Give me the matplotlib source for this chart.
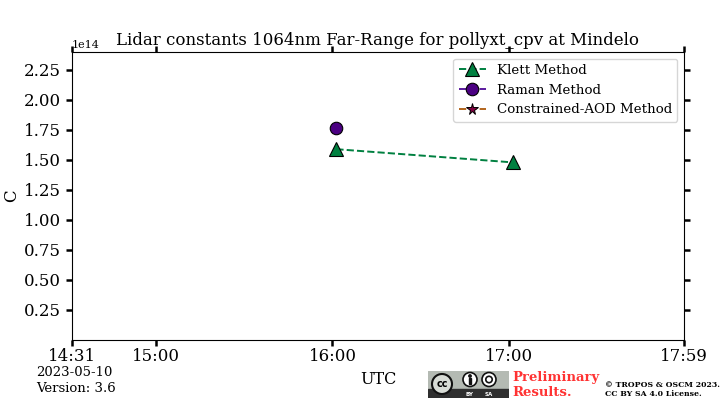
import datetime as dt

import matplotlib
matplotlib.use('Agg')
import matplotlib.pyplot as plt
from matplotlib.patches import Circle, Rectangle

plt.rcParams['font.family'] = 'DejaVu Serif'

day = dt.datetime(2023, 5, 10)


def hm(h, m, s=0):
    return day + dt.timedelta(hours=h, minutes=m, seconds=s)


klett_times = [hm(16, 1, 20), hm(17, 1, 20)]
klett_values = [1.59e14, 1.48e14]
raman_times = [hm(16, 1, 20)]
raman_values = [1.765e14]
aod_times = []
aod_values = []

x_ticks = [hm(14, 31, 27), hm(15, 0), hm(16, 0), hm(17, 0), hm(17, 59, 30)]
x_labels = ['14:31', '15:00', '16:00', '17:00', '17:59']
y_ticks = [0.25e14, 0.5e14, 0.75e14, 1.0e14, 1.25e14, 1.5e14, 1.75e14, 2.0e14, 2.25e14]

fig = plt.figure(figsize=(7.2, 4.0), dpi=100)
ax = fig.add_axes([0.1, 0.15, 0.85, 0.72])

ax.plot(klett_times, klett_values, '--', color='#008040', marker='^', ms=9.5,
        mfc='#008040', mec='black', mew=0.8, lw=1.4, label='Klett Method')
ax.plot(raman_times, raman_values, '--', color='#5b1a9e', marker='o', ms=9,
        mfc='#4b0082', mec='black', mew=0.8, lw=1.4, label='Raman Method')
ax.plot(aod_times, aod_values, '--', color='#b2651d', marker='*', ms=8.5,
        mfc='#800040', mec='black', mew=0.7, lw=1.4, label='Constrained-AOD Method')

ax.set_xlim(x_ticks[0], x_ticks[-1])
ax.set_ylim(0, 2.4e14)
ax.set_xticks(x_ticks)
ax.set_xticklabels(x_labels)
ax.set_yticks(y_ticks)
ax.tick_params(axis='both', which='major', labelsize=12, length=4.5, width=1.8,
               top=True, right=True, direction='out')
ax.tick_params(axis='x', pad=1)
ax.yaxis.get_offset_text().set_fontsize(8)
fig.text(12 / 720, 0.51, 'C', fontsize=12, rotation=90, ha='center', va='center')
ax.set_title('Lidar constants 1064nm Far-Range for pollyxt_cpv at Mindelo', fontsize=12, pad=5)
ax.legend(loc='upper right', fontsize=9.6, framealpha=0.8, handlelength=2.05)

fig.text(0.05, 0.0675, '2023-05-10', fontsize=9.5, va='center')
fig.text(0.05, 0.03, 'Version: 3.6', fontsize=9.5, va='center')
fig.text(0.5, 0.0525, 'UTC', fontsize=11.5, va='center')
fig.text(0.711, 0.0575, 'Preliminary', color='#ff3333', fontsize=9.5, fontweight='bold', va='center')
fig.text(0.711, 0.02, 'Results.', color='#ff3333', fontsize=9.5, fontweight='bold', va='center')
fig.text(0.84, 0.0375, '\u00a9 TROPOS & OSCM 2023.', fontsize=5.6, fontweight='bold', va='center')
fig.text(0.84, 0.014, 'CC BY SA 4.0 License.', fontsize=5.6, fontweight='bold', va='center')

# cc logo
logo = fig.add_axes([428 / 720, 2 / 400, 81 / 720, 27 / 400])
logo.set_xlim(0, 81)
logo.set_ylim(0, 27)
logo.axis('off')
logo.add_patch(Rectangle((0, 0), 81, 27, color='#b4bab3'))
logo.add_patch(Rectangle((0, 0), 81, 9, color='#2f2f2f'))
logo.add_patch(Circle((14, 14), 10, fc='#d8dcd6', ec='#111111', lw=1.5))
logo.text(14, 14, 'cc', fontsize=7, fontweight='bold', ha='center', va='center', family='DejaVu Sans')
logo.add_patch(Circle((42, 18.5), 7, fc='white', ec='#111111', lw=1.2))
logo.add_patch(Rectangle((41, 14.5), 2, 6, color='#111111'))
logo.add_patch(Circle((42, 22), 1.2, color='#111111'))
logo.add_patch(Circle((61, 18.5), 7, fc='white', ec='#111111', lw=1.2))
logo.add_patch(Circle((61, 18.5), 3.2, fc='white', ec='#111111', lw=1.2))
logo.text(42, 4, 'BY', color='white', fontsize=4, fontweight='bold', ha='center', va='center', family='DejaVu Sans')
logo.text(61, 4, 'SA', color='white', fontsize=4, fontweight='bold', ha='center', va='center', family='DejaVu Sans')

fig.savefig('out.png', dpi=100)
